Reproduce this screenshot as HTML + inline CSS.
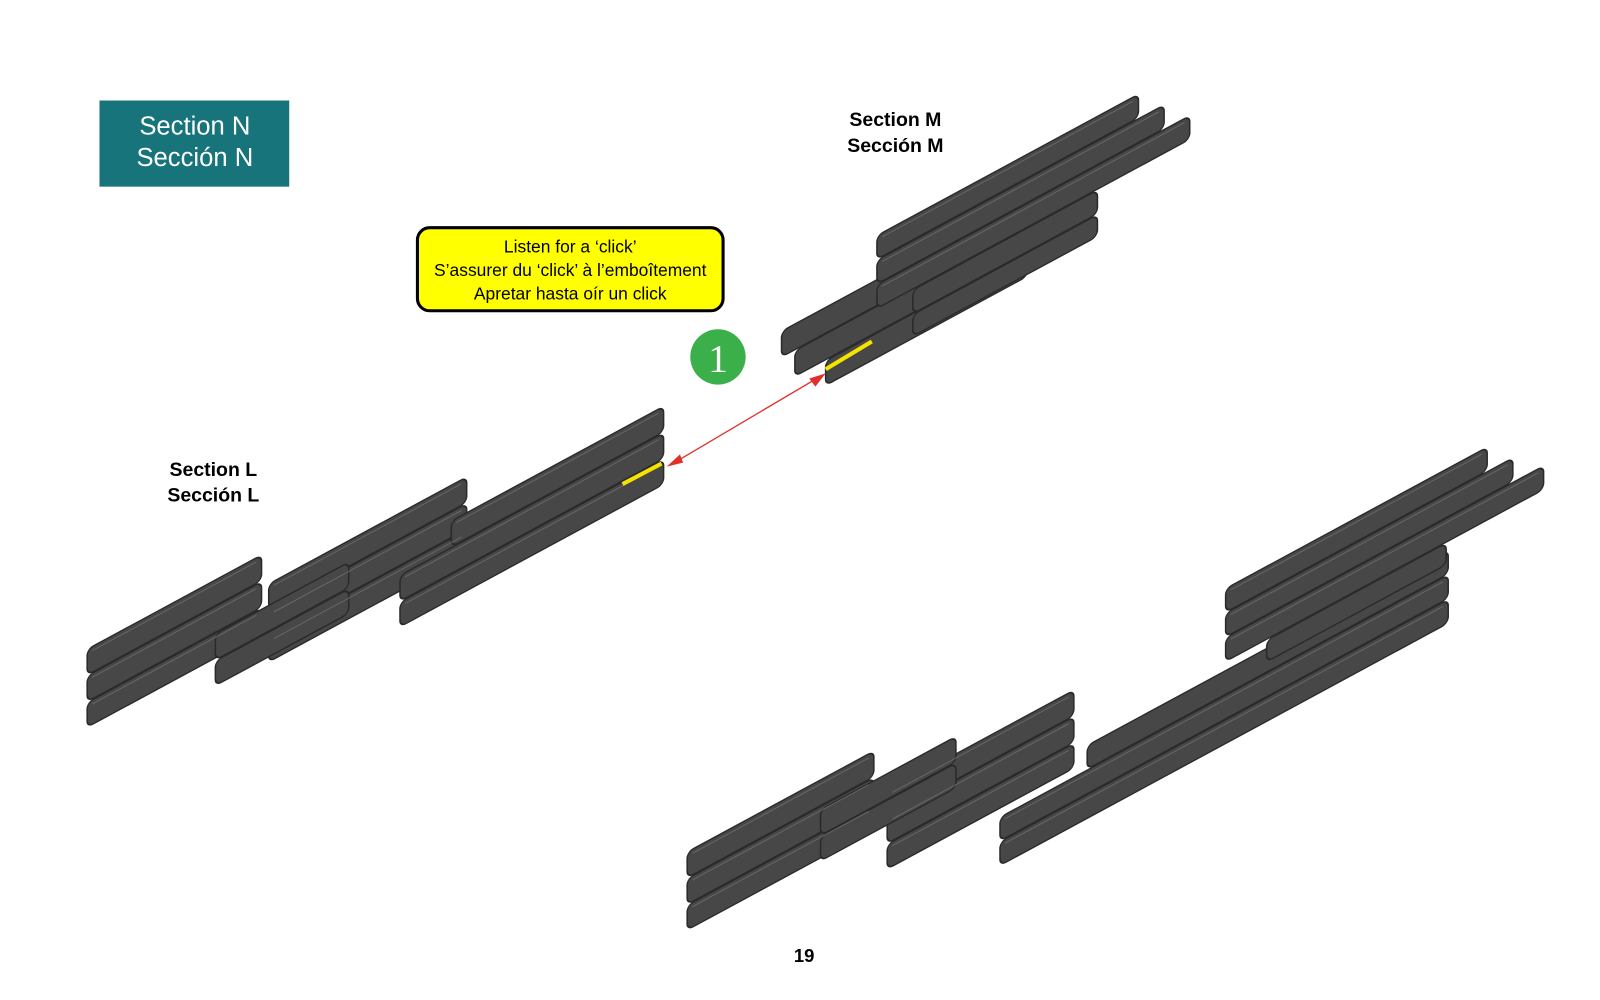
<!DOCTYPE html>
<html><head><meta charset="utf-8"><style>
html,body{margin:0;padding:0;background:#fff;width:1600px;height:1000px;overflow:hidden}
svg{display:block;overflow:hidden}
.t{font-family:"Liberation Sans",sans-serif}
</style></head><body>
<svg width="1600" height="1000" viewBox="0 0 1560 975" xmlns="http://www.w3.org/2000/svg">
<!-- Section N box -->
<rect x="97" y="98" width="185" height="84" fill="#18747b"/>
<text class="t" x="190" y="131" text-anchor="middle" font-size="25" fill="#fff">Section N</text>
<text class="t" x="190" y="162" text-anchor="middle" font-size="25" fill="#fff">Sección N</text>

<!-- labels -->
<text class="t" x="873" y="123" text-anchor="middle" font-size="19" font-weight="bold">Section M</text>
<text class="t" x="873" y="148" text-anchor="middle" font-size="19" font-weight="bold">Sección M</text>
<text class="t" x="208" y="464" text-anchor="middle" font-size="19" font-weight="bold">Section L</text>
<text class="t" x="208" y="489" text-anchor="middle" font-size="19" font-weight="bold">Sección L</text>
<text class="t" x="784" y="938" text-anchor="middle" font-size="18" font-weight="bold">19</text>

<!-- callout -->
<rect x="407" y="222" width="298" height="81" rx="12" fill="#ffff00" stroke="#000" stroke-width="3"/>
<text class="t" x="556" y="246" text-anchor="middle" font-size="17">Listen for a ‘click’</text>
<text class="t" x="556" y="269" text-anchor="middle" font-size="17">S’assurer du ‘click’ à l’emboîtement</text>
<text class="t" x="556" y="292" text-anchor="middle" font-size="17">Apretar hasta oír un click</text>

<!-- step -->
<circle cx="700" cy="348" r="27" fill="#3bb04a"/>
<text x="700" y="362" text-anchor="middle" font-size="38" fill="#fff" font-family="Liberation Serif,serif">1</text>

<!-- pieces, sheared -->
<g transform="skewY(-28.4)" fill="#474747" stroke="#2a2a2a" stroke-width="1.5">
<!-- Section L -->
<rect x="85" y="679" width="170" height="25" rx="6"/>
<rect x="85" y="705" width="170" height="25" rx="6"/>
<rect x="85" y="731" width="170" height="24" rx="6"/>
<rect x="262" y="711" width="193" height="25" rx="6"/>
<rect x="262" y="737" width="193" height="25" rx="6"/>
<rect x="262" y="763" width="193" height="24" rx="6"/>
<rect x="210" y="732" width="130" height="25" rx="6"/>
<rect x="210" y="758" width="130" height="24" rx="6"/>
<rect x="440" y="746" width="207" height="25" rx="6"/>
<rect x="390" y="772" width="257" height="25" rx="6"/>
<rect x="390" y="798" width="257" height="24" rx="6"/>
<!-- Section M -->
<rect x="762" y="735" width="240" height="25" rx="6"/>
<rect x="775" y="761" width="227" height="25" rx="6"/>
<rect x="805" y="787" width="197" height="24" rx="6"/>
<rect x="855" y="692" width="255" height="23" rx="6"/>
<rect x="855" y="716" width="280" height="23" rx="6"/>
<rect x="855" y="740" width="305" height="23" rx="6"/>
<rect x="890" y="764" width="180" height="23" rx="6"/>
<rect x="890" y="788" width="180" height="21" rx="6"/>
<!-- bottom assembly -->
<rect x="670" y="1193" width="182" height="25" rx="6"/>
<rect x="670" y="1219" width="182" height="25" rx="6"/>
<rect x="670" y="1245" width="182" height="24" rx="6"/>
<rect x="865" y="1239" width="182" height="25" rx="6"/>
<rect x="865" y="1265" width="182" height="25" rx="6"/>
<rect x="865" y="1291" width="182" height="24" rx="6"/>
<rect x="800" y="1222" width="132" height="25" rx="6"/>
<rect x="800" y="1248" width="132" height="24" rx="6"/>
<rect x="1060" y="1300" width="352" height="23" rx="6"/>
<rect x="975" y="1324" width="437" height="23" rx="6"/>
<rect x="975" y="1348" width="437" height="23" rx="6"/>
<rect x="1195" y="1220" width="255" height="23" rx="6"/>
<rect x="1195" y="1244" width="280" height="23" rx="6"/>
<rect x="1195" y="1268" width="310" height="23" rx="6"/>
<rect x="1235" y="1292" width="175" height="21" rx="6"/>
</g>
<g transform="skewY(-28.4)" stroke="#6a6a6a" stroke-width="1" fill="none">
<line x1="90" y1="683" x2="250" y2="683"/><line x1="90" y1="709" x2="250" y2="709"/><line x1="90" y1="735" x2="250" y2="735"/>
<line x1="267" y1="715" x2="450" y2="715"/><line x1="267" y1="741" x2="450" y2="741"/><line x1="267" y1="767" x2="450" y2="767"/>
<line x1="445" y1="750" x2="642" y2="750"/><line x1="395" y1="776" x2="642" y2="776"/><line x1="395" y1="802" x2="642" y2="802"/>
<line x1="860" y1="696" x2="1105" y2="696"/><line x1="860" y1="720" x2="1130" y2="720"/><line x1="860" y1="744" x2="1155" y2="744"/>
<line x1="675" y1="1197" x2="847" y2="1197"/><line x1="675" y1="1223" x2="847" y2="1223"/><line x1="675" y1="1249" x2="847" y2="1249"/>
<line x1="870" y1="1243" x2="1042" y2="1243"/><line x1="870" y1="1269" x2="1042" y2="1269"/><line x1="870" y1="1295" x2="1042" y2="1295"/>
<line x1="980" y1="1328" x2="1407" y2="1328"/><line x1="980" y1="1352" x2="1407" y2="1352"/>
<line x1="1200" y1="1224" x2="1445" y2="1224"/><line x1="1200" y1="1248" x2="1470" y2="1248"/><line x1="1200" y1="1272" x2="1500" y2="1272"/>
</g>

<!-- yellow highlights -->
<line x1="607" y1="472" x2="645" y2="452" stroke="#f4e400" stroke-width="4"/>
<line x1="805" y1="360" x2="850" y2="333" stroke="#f4e400" stroke-width="4"/>

<!-- red arrow -->
<line x1="656" y1="452" x2="798" y2="368" stroke="#e0302a" stroke-width="1.3"/>
<polygon points="650,455 663,443 666,451" fill="#e0302a"/>
<polygon points="805,364 789,369 795,377" fill="#e0302a"/>
</svg>
</body></html>
